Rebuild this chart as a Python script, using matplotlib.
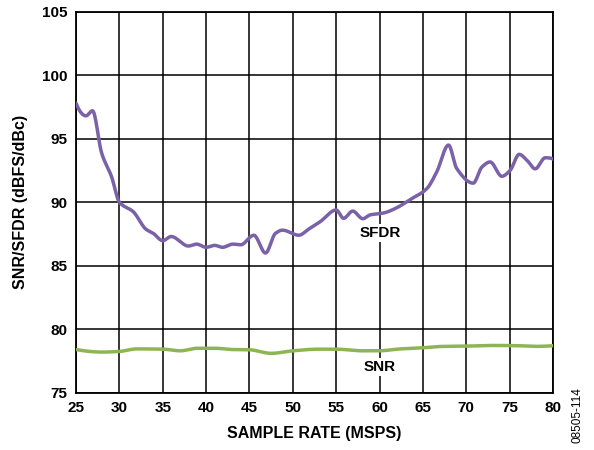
import matplotlib
matplotlib.use("Agg")
import matplotlib.pyplot as plt
import numpy as np

sfdr_x = [25, 26.15, 26.9, 27.96, 29.1, 30, 31.6, 33.07, 33.9, 35, 35.96, 37.96, 38.9, 40, 41, 41.9,
          43.07, 44.0, 45.5, 46.85, 48.0, 48.8, 50.7, 51.8, 53.14, 55.0, 55.85, 56.9, 58.07, 58.9,
          60.45, 62.0, 63.5, 65.45, 66.6, 67.95, 68.9, 70.8, 71.8, 72.75, 74.1, 75.05, 76.1, 77.0,
          77.95, 79.1, 80]
sfdr_y = [97.8, 96.8, 97.2, 93.85, 92.0, 90.0, 89.25, 87.87, 87.55, 86.97, 87.3, 86.55, 86.7, 86.45,
          86.6, 86.45, 86.7, 86.65, 87.4, 86.0, 87.55, 87.8, 87.4, 87.87, 88.46, 89.39, 88.73, 89.3,
          88.7, 89.0, 89.15, 89.57, 90.2, 91.07, 92.4, 94.5, 92.65, 91.5, 92.77, 93.17, 92.04, 92.5,
          93.77, 93.3, 92.63, 93.5, 93.4]

snr_x = [25, 28, 30, 32, 35, 37, 39, 41, 43, 45, 47.5, 50, 53, 55, 58, 60, 62, 65, 67, 70, 73, 76, 78, 80]
snr_y = [78.4, 78.2, 78.25, 78.45, 78.43, 78.3, 78.5, 78.5, 78.4, 78.38, 78.1, 78.3, 78.43, 78.43,
         78.3, 78.3, 78.43, 78.54, 78.64, 78.67, 78.72, 78.7, 78.65, 78.7]

x_ticks = list(range(25, 81, 5))
y_ticks = list(range(75, 106, 5))

plt.rcParams['font.family'] = ['Liberation Sans', 'DejaVu Sans']

fig = plt.figure(figsize=(5.94, 4.5), dpi=100)
ax = fig.add_axes([0.128, 0.1273, 0.803, 0.8467])

def smooth(x, y):
    try:
        from scipy.interpolate import PchipInterpolator
        xs = np.linspace(min(x), max(x), 800)
        return xs, PchipInterpolator(x, y)(xs)
    except Exception:
        return x, y

xs, ys = smooth(sfdr_x, sfdr_y)
ax.plot(xs, ys, color='#7b62a8', lw=2.5, solid_capstyle='round', zorder=3)
xs2, ys2 = smooth(snr_x, snr_y)
ax.plot(xs2, ys2, color='#8db553', lw=2.5, solid_capstyle='round', zorder=3)

ax.set_xlim(25, 80)
ax.set_ylim(75, 105)
ax.set_xticks(x_ticks)
ax.set_yticks(y_ticks)
ax.grid(True, color='black', lw=1.1)
ax.tick_params(length=0, labelsize=11, pad=6)
for lab in ax.get_xticklabels() + ax.get_yticklabels():
    lab.set_fontweight('bold')
for s in ax.spines.values():
    s.set_linewidth(1.3)

ax.set_xlabel('SAMPLE RATE (MSPS)', fontsize=11.5, fontweight='bold', labelpad=8)
ax.set_ylabel('SNR/SFDR (dBFS/dBc)', fontsize=11.5, fontweight='bold', labelpad=10)

bb = dict(facecolor='white', edgecolor='none', pad=1.5)
ax.text(60.06, 87.57, 'SFDR', ha='center', va='center', fontsize=11, fontweight='bold', bbox=bb, zorder=4)
ax.text(60.06, 77.05, 'SNR', ha='center', va='center', fontsize=11, fontweight='bold', bbox=bb, zorder=4)

fig.text(0.973, 0.078, '08505-114', rotation=90, ha='center', va='center', fontsize=8.5)

fig.savefig('out.png', dpi=100)
